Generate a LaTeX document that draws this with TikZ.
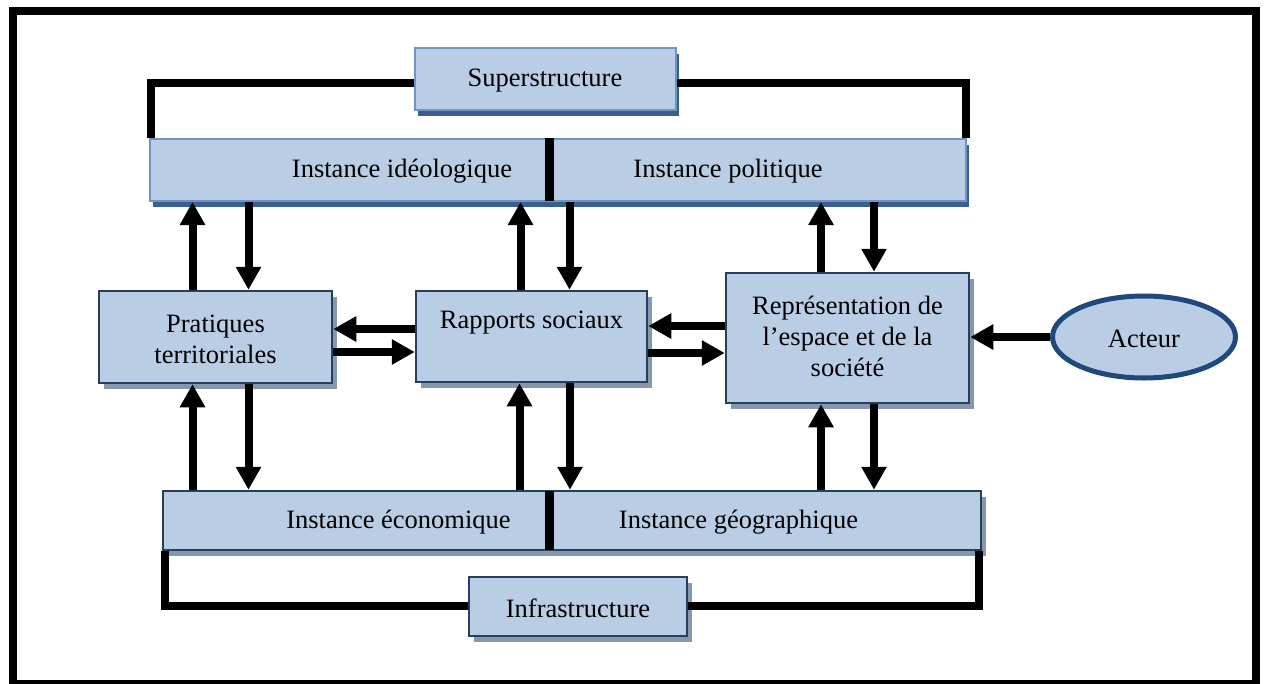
\documentclass[tikz,border=0pt]{standalone}
\usepackage{fontspec}
\setmainfont{Liberation Serif}
\usetikzlibrary{arrows.meta,shadows,shapes.geometric}
\definecolor{boxfill}{HTML}{B9CDE5}
\definecolor{darkedge}{HTML}{243F60}
\definecolor{baredge}{HTML}{6F93C4}
\definecolor{barshadow}{HTML}{3B5E8F}
\definecolor{boxshadow}{HTML}{8797AD}
\definecolor{elledge}{HTML}{1F487C}
\begin{document}
\begin{tikzpicture}[x=1pt,y=-1pt,
  every node/.style={font=\fontsize{26.5}{31}\selectfont, inner sep=0pt, align=center},
  barbox/.style={rectangle, fill=boxfill, draw=baredge, line width=2pt,
    drop shadow={shadow xshift=3pt, shadow yshift=-6pt, fill=barshadow, opacity=1}},
  plainbox/.style={rectangle, fill=boxfill, draw=darkedge, line width=2.5pt,
    drop shadow={shadow xshift=5pt, shadow yshift=-6pt, fill=boxshadow, opacity=1}},
  conn/.style={line width=8pt, line join=miter},
  arr/.style={line width=8pt, -{Triangle[length=23pt,width=24pt]}},
  divider/.style={line width=9pt}]
\useasboundingbox (0,0) rectangle (1264,683);
\draw[line width=8pt] (12.5,11) rectangle (1256,684);

% boxes
\node[barbox, minimum width=261pt, minimum height=62pt] (sup) at (545.5,79) {};
\node (suptext) at (545,81) {Superstructure};
\node[barbox, minimum width=816pt, minimum height=62pt] (topbar) at (558,170) {};
\node (ideo) at (402,171) {Instance idéologique};
\node (poli) at (728,171) {Instance politique};

\node[plainbox, minimum width=233pt, minimum height=92pt] (prat) at (215.5,337) {};
\node (prattext) at (215.5,339) {Pratiques\\territoriales};
\node[plainbox, minimum width=231pt, minimum height=91pt] (rap) at (531.5,336.5) {};
\node (raptext) at (531.5,323) {Rapports sociaux};
\node[plainbox, minimum width=243pt, minimum height=130pt] (rep) at (847.5,338) {};
\node (reptext) at (847.5,336) {Représentation de\\l’espace et de la\\société};
\node[ellipse, fill=boxfill, draw=elledge, line width=5pt,
  minimum width=183pt, minimum height=82pt] (act) at (1144,337) {};
\node (acttext) at (1144,339) {Acteur};

\node[plainbox, minimum width=818pt, minimum height=59pt] (botbar) at (572,520.5) {};
\node (eco) at (398.5,522) {Instance économique};
\node (geo) at (738.5,522) {Instance géographique};
\node[plainbox, minimum width=218pt, minimum height=59pt] (inf) at (578,606.5) {};
\node (inftext) at (578,608) {Infrastructure};

% dividers
\draw[divider] (549.5,138) -- (549.5,201);
\draw[divider] (549.5,491) -- (549.5,550);

% frame connectors
\coordinate (tl) at (150.5,83);
\coordinate (tr) at (965.5,83);
\coordinate (bl) at (164.5,606);
\coordinate (br) at (979,606);
\draw[conn] (sup.west |- tl) -| (topbar.north -| tl);
\draw[conn] (sup.east |- tr) -| (topbar.north -| tr);
\draw[conn] (inf.west |- bl) -| (botbar.south -| bl);
\draw[conn] (inf.east |- br) -| (botbar.south -| br);

% vertical arrow positions
\coordinate (a1) at (192.5,0);
\coordinate (a2) at (248.5,0);
\coordinate (a3) at (520.5,0);
\coordinate (a4) at (569.5,0);
\coordinate (a5) at (821,0);
\coordinate (a6) at (874,0);
\coordinate (b3) at (519.5,0);
\coordinate (b4) at (570,0);

\draw[arr] (prat.north -| a1) -- (topbar.south -| a1);
\draw[arr] (topbar.south -| a2) -- (prat.north -| a2);
\draw[arr] (rap.north -| a3) -- (topbar.south -| a3);
\draw[arr] (topbar.south -| a4) -- (rap.north -| a4);
\draw[arr] (rep.north -| a5) -- (topbar.south -| a5);
\draw[arr] (topbar.south -| a6) -- (rep.north -| a6);

\draw[arr] (botbar.north -| a1) -- (prat.south -| a1);
\draw[arr] (prat.south -| a2) -- (botbar.north -| a2);
\draw[arr] (botbar.north -| b3) -- (rap.south -| b3);
\draw[arr] (rap.south -| b4) -- (botbar.north -| b4);
\draw[arr] (botbar.north -| a5) -- (rep.south -| a5);
\draw[arr] (rep.south -| a6) -- (botbar.north -| a6);

% horizontal arrows
\coordinate (h1) at (0,329);
\coordinate (h2) at (0,352);
\coordinate (h3) at (0,326);
\coordinate (h4) at (0,353);
\draw[arr] (rap.west |- h1) -- (prat.east |- h1);
\draw[arr] (prat.east |- h2) -- (rap.west |- h2);
\draw[arr] (rep.west |- h3) -- (rap.east |- h3);
\draw[arr] (rap.east |- h4) -- (rep.west |- h4);
\draw[arr] (act.west) -- (rep.east |- act.west);
\end{tikzpicture}
\end{document}
